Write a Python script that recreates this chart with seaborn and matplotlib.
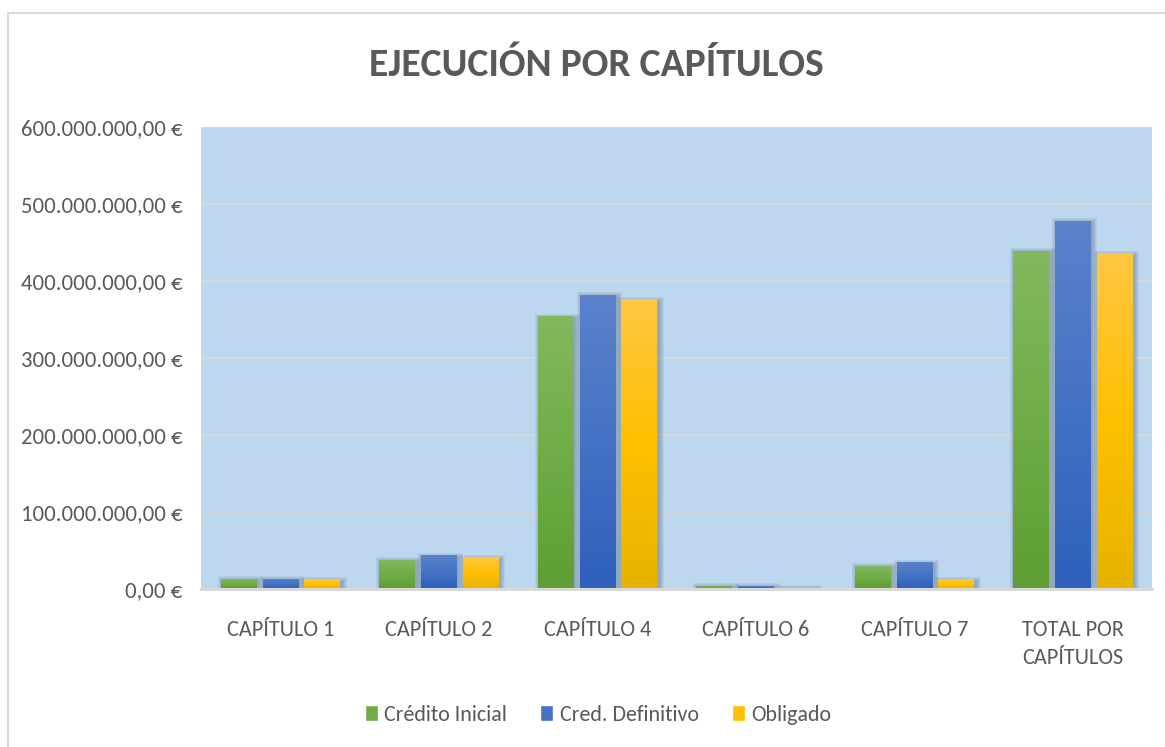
import matplotlib
matplotlib.use("Agg")
import matplotlib.pyplot as plt
from matplotlib.patches import Rectangle
from matplotlib.colors import LinearSegmentedColormap
from matplotlib.ticker import FuncFormatter
import seaborn as sns
import pandas as pd
import numpy as np

categories = ["CAPÍTULO 1", "CAPÍTULO 2", "CAPÍTULO 4", "CAPÍTULO 6", "CAPÍTULO 7", "TOTAL POR\nCAPÍTULOS"]
credito_inicial = [13e6, 37.7e6, 354.5e6, 4e6, 30e6, 439e6]
cred_definitivo = [13e6, 44e6, 382e6, 4e6, 35e6, 478e6]
obligado = [12.6e6, 41.5e6, 376e6, 1.3e6, 12.6e6, 436e6]
series_names = ["Crédito Inicial", "Cred. Definitivo", "Obligado"]
colors = ["#70AD47", "#4472C4", "#FFC000"]
grad_top = ["#82B85E", "#5B82CB", "#FFC741"]
grad_bot = ["#5E9E34", "#2E60BC", "#E6B300"]
yticks = [0, 100e6, 200e6, 300e6, 400e6, 500e6, 600e6]

df = pd.DataFrame({
    "cat": categories * 3,
    "serie": [series_names[0]] * 6 + [series_names[1]] * 6 + [series_names[2]] * 6,
    "val": credito_inicial + cred_definitivo + obligado,
})

sns.set_theme(style="white")
plt.rcParams["font.family"] = ["Carlito", "Liberation Sans Narrow", "Lato", "DejaVu Sans"]
txt = "#595959"

W, H = 1165, 747
fig = plt.figure(figsize=(W / 100, H / 100), dpi=100)
ax = fig.add_axes([201 / W, 1 - 589 / H, 951 / W, 462 / H])

# outer frame
fig.patches.append(Rectangle((8 / W, -0.1), 1.2, 1 - 13 / H + 0.1, transform=fig.transFigure,
                             fill=False, edgecolor="#D9D9D9", linewidth=1.5))

ax.set_facecolor("#BDD7EE")
sns.barplot(data=df, x="cat", y="val", hue="serie", palette=colors, ax=ax,
            width=0.79, gap=0.16, saturation=1, legend=True, zorder=3)

ax.set_xlim(-0.5, 5.5)
ax.set_ylim(0, 600e6)

px_x = 6 / 951.0          # data units per pixel (x)
px_y = 600e6 / 462.0      # data units per pixel (y)

bars = list(ax.patches)
for i, p in enumerate(bars):
    s = i // 6
    x0, y0 = p.get_x(), p.get_y()
    w, h = p.get_width(), p.get_height()
    if h <= 0:
        continue
    # soft shadow
    for k in range(1, 6):
        sh = Rectangle((x0 + (2 - k) * px_x, y0), w + (2 * k) * px_x, h + (k - 2.5) * px_y,
                       facecolor="#34465c", edgecolor="none", alpha=0.07, zorder=2)
        ax.add_patch(sh)
    # gradient fill
    cmap = LinearSegmentedColormap.from_list("g", [grad_bot[s], colors[s], grad_top[s]])
    grad = np.linspace(0, 1, 64).reshape(-1, 1)
    im = ax.imshow(grad, extent=(x0, x0 + w, y0, y0 + h), origin="lower", cmap=cmap,
                   aspect="auto", zorder=4, interpolation="bilinear")
    im.set_clip_path(p)
    p.set_edgecolor("none")
    p.set_linewidth(0)

ax.set_xlim(-0.5, 5.5)
ax.set_ylim(0, 600e6)
ax.set_yticks(yticks)
ax.yaxis.set_major_formatter(FuncFormatter(lambda v, pos: f"{v:,.2f} €".replace(",", "X").replace(".", ",").replace("X", ".")))
ax.grid(axis="y", color="#D9D9D9", linewidth=1.2, zorder=0)
ax.set_axisbelow(True)
for s in ["top", "right", "left"]:
    ax.spines[s].set_visible(False)
ax.spines["bottom"].set_color("#D9D9D9")
ax.spines["bottom"].set_linewidth(2.2)
ax.spines["bottom"].set_zorder(5)
ax.set_xlabel("")
ax.set_ylabel("")
ax.tick_params(axis="y", labelsize=16.4, labelcolor=txt, length=0, pad=13.5)
ax.tick_params(axis="x", labelsize=16, labelcolor=txt, length=0, pad=22)
for lab in ax.get_xticklabels():
    lab.set_verticalalignment("top")
    lab.set_linespacing(1.55)

fig.text(596 / W, 1 - 65 / H, "EJECUCIÓN POR CAPÍTULOS", ha="center", va="center",
         fontsize=28.5, fontweight="bold", color=txt)

handles, labels = ax.get_legend_handles_labels()
ax.legend(handles, labels, loc="center", bbox_to_anchor=(598 / W, 1 - 715 / H),
          bbox_transform=fig.transFigure, ncol=3, frameon=False, fontsize=15.8,
          labelcolor=txt, handlelength=0.6, handleheight=0.75, handletextpad=0.3, columnspacing=1.5)

fig.savefig("out.png", dpi=100, facecolor="white")
